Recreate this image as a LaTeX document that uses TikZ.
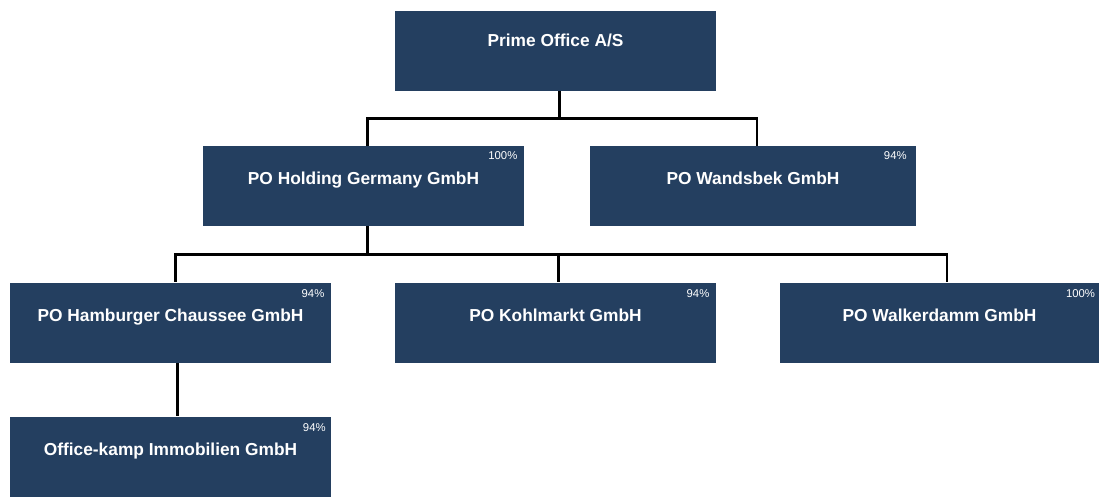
\documentclass[tikz,border=0pt]{standalone}
\usepackage{fontspec}
\setmainfont{Liberation Sans}
\usetikzlibrary{positioning}
\definecolor{boxblue}{RGB}{36,63,96}
\tikzset{
unit/.style={rectangle, fill=boxblue, text=white, font=\bfseries\fontsize{13}{15}\selectfont,
  minimum width=321*0.75pt, minimum height=80*0.75pt, inner sep=0pt,
  text height=9.5pt, text depth=11.5pt}, % company box, name set a bit above centre
pct/.style={text=white, font=\fontsize{8.5}{10}\selectfont, inner sep=0pt, anchor=north east}, % share
link/.style={line width=2pt, black}, % ownership line
}

\begin{document}
\begin{tikzpicture}[x=0.75pt, y=-0.75pt]
    \useasboundingbox (0,0) rectangle (1099,496);

    \node[unit, text depth=15pt] (prime) at (555.5,50.5) {Prime Office A/S};
    \node[unit] (holding) at (363.5,186) {PO Holding Germany GmbH};
    \node[unit, minimum width=326*0.75pt] (wandsbek) at (753,186) {PO Wandsbek GmbH};
    \node[unit] (hamburger) at (170.5,322.5) {PO Hamburger Chaussee GmbH};
    \node[unit] (kohlmarkt) at (555.5,322.5) {PO Kohlmarkt GmbH};
    \node[unit, minimum width=319*0.75pt] (walker) at (939.5,322.5) {PO Walkerdamm GmbH};
    \node[unit] (officekamp) at (170.5,456.5) {Office-kamp Immobilien GmbH};

    % shares
    \node[pct] (pholding) at ([xshift=-5pt, yshift=-4pt]holding.north east) {100\%};
    \node[pct] (pwandsbek) at ([xshift=-7pt, yshift=-4pt]wandsbek.north east) {94\%};
    \node[pct] (phamburger) at ([xshift=-5pt, yshift=-5pt]hamburger.north east) {94\%};
    \node[pct] (pkohlmarkt) at ([xshift=-5pt, yshift=-5pt]kohlmarkt.north east) {94\%};
    \node[pct] (pwalker) at ([xshift=-3pt, yshift=-5pt]walker.north east) {100\%};
    \node[pct] (pofficekamp) at ([xshift=-4pt, yshift=-5pt]officekamp.north east) {94\%};

    % ownership lines
    \draw[link] ([xshift=3pt]prime.south) -- ++(0,27.5) coordinate (bus1);
    \draw[link] (bus1) -| ([xshift=3pt]holding.north);
    \draw[link] (bus1) -| ([xshift=3pt]wandsbek.north);
    \draw[link] ([xshift=3pt]holding.south) -- ++(0,28) coordinate (bus2);
    \draw[link] (bus2) -| ([xshift=3.5pt]hamburger.north);
    \draw[link] (bus2) -| ([xshift=2pt]kohlmarkt.north);
    \draw[link] (bus2) -| ([xshift=5.5pt]walker.north);
    \draw[link] ([xshift=5pt]hamburger.south) -- ([xshift=5pt]officekamp.north);
\end{tikzpicture}
\end{document}
